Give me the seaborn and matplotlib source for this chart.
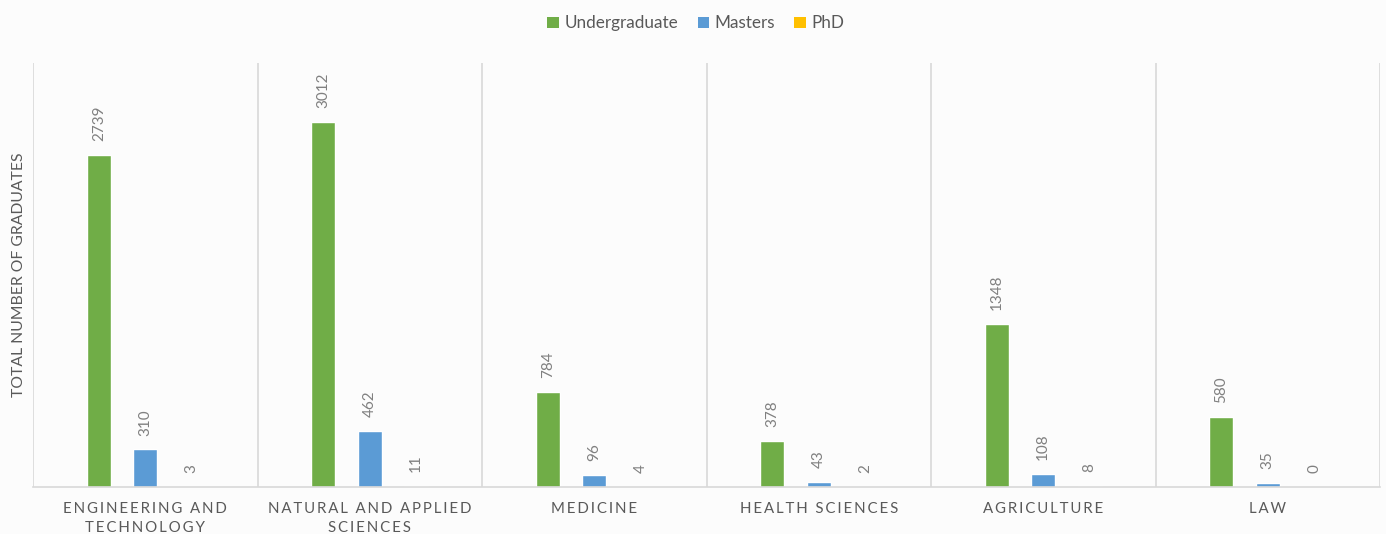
import matplotlib
matplotlib.use("Agg")
import matplotlib.pyplot as plt
import seaborn as sns
import pandas as pd
from matplotlib.patches import Patch

# Graduates by field of study and degree level
fields = ["Engineering and\nTechnology", "Natural and Applied\nSciences", "Medicine",
          "Health Sciences", "Agriculture", "Law"]
levels = ["Undergraduate", "Masters", "PhD"]
undergraduate = [2739, 3012, 784, 378, 1348, 580]
masters = [310, 462, 96, 43, 108, 35]
phd = [3, 11, 4, 2, 8, 0]

colors = ["#70AD47", "#5B9BD5", "#FFC000"]
text_grey = "#595959"
value_grey = "#808080"
line_grey = "#D9D9D9"

rows = []
for series_name, values in zip(levels, [undergraduate, masters, phd]):
    for f, v in zip(fields, values):
        rows.append({"field": f, "level": series_name, "count": v})
df = pd.DataFrame(rows)

sns.set_theme(style="white")
plt.rcParams["font.family"] = ["Lato", "DejaVu Sans"]

fig = plt.figure(figsize=(13.86, 5.34), dpi=100, facecolor="#FCFCFC")
ax = fig.add_axes([33 / 1386, 47 / 534, (1380 - 33) / 1386, (487 - 63) / 534])
ax.set_facecolor("#FCFCFC")

sns.barplot(data=df, x="field", y="count", hue="level", hue_order=levels,
            palette=colors, width=0.62, gap=0.48, ax=ax, legend=False,
            saturation=1, errorbar=None)

for cont in ax.containers:
    ax.bar_label(cont, labels=[f"{int(v)}" for v in cont.datavalues],
                 rotation=90, padding=10, color=value_grey, fontsize=11)

ax.set_ylim(0, 3500)
ax.set_xlim(-0.5, len(fields) - 0.5)
ax.set_yticks([])

def spaced(s):
    # uppercase with widened tracking
    return "\n".join("\u2009".join(list(line.upper())) for line in s.split("\n"))

ax.set_xticks(range(len(fields)))
ax.set_xticklabels([spaced(f) for f in fields], color=text_grey, fontsize=10.8,
                   linespacing=1.45)
ax.tick_params(axis="x", length=0, pad=11)
ax.set_xticks([i - 0.5 for i in range(len(fields) + 1)], minor=True)
ax.tick_params(axis="x", which="minor", length=0)
ax.grid(axis="x", which="minor", color=line_grey, linewidth=1.2)
ax.grid(axis="x", which="major", visible=False)
ax.set_axisbelow(True)

for side in ["top", "right", "left"]:
    ax.spines[side].set_visible(False)
ax.spines["bottom"].set_color(line_grey)
ax.spines["bottom"].set_linewidth(1.2)

ax.set_xlabel("")
ax.set_ylabel("TOTAL NUMBER OF GRADUATES", color=text_grey, fontsize=11.3, labelpad=5)

handles = [Patch(facecolor=c, edgecolor="none", label=l) for c, l in zip(colors, levels)]
fig.legend(handles=handles, loc="upper center", bbox_to_anchor=(0.502, 1.0), ncol=3,
           frameon=False, fontsize=12.3, handlelength=0.68, handleheight=0.68,
           handletextpad=0.3, columnspacing=1.15, labelcolor=text_grey)

fig.savefig("out.png", dpi=100, facecolor=fig.get_facecolor())
